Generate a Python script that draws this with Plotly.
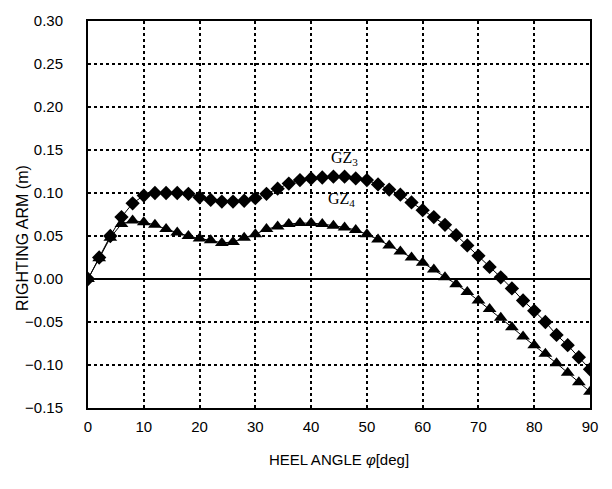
import plotly.graph_objects as go

heel_deg = list(range(0, 92, 2))
gz3 = [0.000, 0.025, 0.050, 0.072, 0.088, 0.097, 0.100, 0.100, 0.100, 0.099,
       0.095, 0.092, 0.090, 0.090, 0.091, 0.094, 0.099, 0.105, 0.111, 0.115,
       0.117, 0.118, 0.119, 0.119, 0.117, 0.115, 0.110, 0.104, 0.098, 0.089,
       0.080, 0.072, 0.063, 0.051, 0.039, 0.027, 0.014, 0.002, -0.011, -0.025,
       -0.037, -0.050, -0.065, -0.077, -0.091, -0.105]
gz4 = [0.000, 0.024, 0.048, 0.064, 0.068, 0.066, 0.063, 0.058, 0.054, 0.050,
       0.047, 0.045, 0.042, 0.043, 0.048, 0.052, 0.058, 0.061, 0.064, 0.065,
       0.065, 0.064, 0.062, 0.060, 0.057, 0.052, 0.046, 0.039, 0.032, 0.025,
       0.019, 0.011, 0.002, -0.006, -0.015, -0.025, -0.035, -0.045, -0.056, -0.067,
       -0.077, -0.087, -0.098, -0.109, -0.120, -0.131]

x_ticks = list(range(0, 100, 10))
y_ticks = [-0.15, -0.10, -0.05, 0.00, 0.05, 0.10, 0.15, 0.20, 0.25, 0.30]
y_labels = ["\u22120.15", "\u22120.10", "\u22120.05", "0.00", "0.05", "0.10", "0.15", "0.20", "0.25", "0.30"]

FONT = "Liberation Sans, Arial, sans-serif"

fig = go.Figure()
fig.add_trace(go.Scatter(x=heel_deg, y=gz3, mode="lines+markers", name="GZ3",
                         line=dict(color="black", width=1),
                         marker=dict(symbol="diamond", size=11, color="black")))
fig.add_trace(go.Scatter(x=heel_deg, y=gz4, mode="lines+markers", name="GZ4",
                         line=dict(color="black", width=1),
                         marker=dict(symbol="triangle-up", size=12, color="black")))

fig.add_annotation(x=46, y=0.140, text="GZ<sub>3</sub>", showarrow=False,
                   font=dict(family="Liberation Serif, serif", size=16, color="black"))
fig.add_annotation(x=45.5, y=0.093, text="GZ<sub>4</sub>", showarrow=False,
                   font=dict(family="Liberation Serif, serif", size=16, color="black"))

fig.add_annotation(xref="paper", yref="paper", x=-0.131, y=0.44,
                   xanchor="center", yanchor="middle",
                   text="RIGHTING ARM (m)", textangle=-90, showarrow=False,
                   font=dict(family=FONT, size=16, color="black"))

fig.update_layout(
    width=612, height=489,
    margin=dict(l=88, r=22, t=18, b=81),
    paper_bgcolor="white", plot_bgcolor="white",
    showlegend=False,
    font=dict(family=FONT, size=15, color="black"),
)
fig.update_xaxes(range=[0, 90], tickvals=x_ticks, ticks="", ticklen=0,
                 ticklabelstandoff=4,
                 showgrid=True, gridcolor="black", griddash="dot", gridwidth=1.5,
                 showline=True, linecolor="black", linewidth=2, mirror=True,
                 zeroline=False,
                 title=dict(text="HEEL ANGLE <i>\u03c6</i>[deg]", standoff=20,
                            font=dict(family=FONT, size=15)))
fig.update_yaxes(range=[-0.15, 0.30], tickvals=y_ticks, ticktext=y_labels, ticks="",
                 ticklabelstandoff=20,
                 showgrid=True, gridcolor="black", griddash="dot", gridwidth=1.5,
                 showline=True, linecolor="black", linewidth=2, mirror=True,
                 zeroline=True, zerolinecolor="black", zerolinewidth=2)

fig.write_html("out.html")
